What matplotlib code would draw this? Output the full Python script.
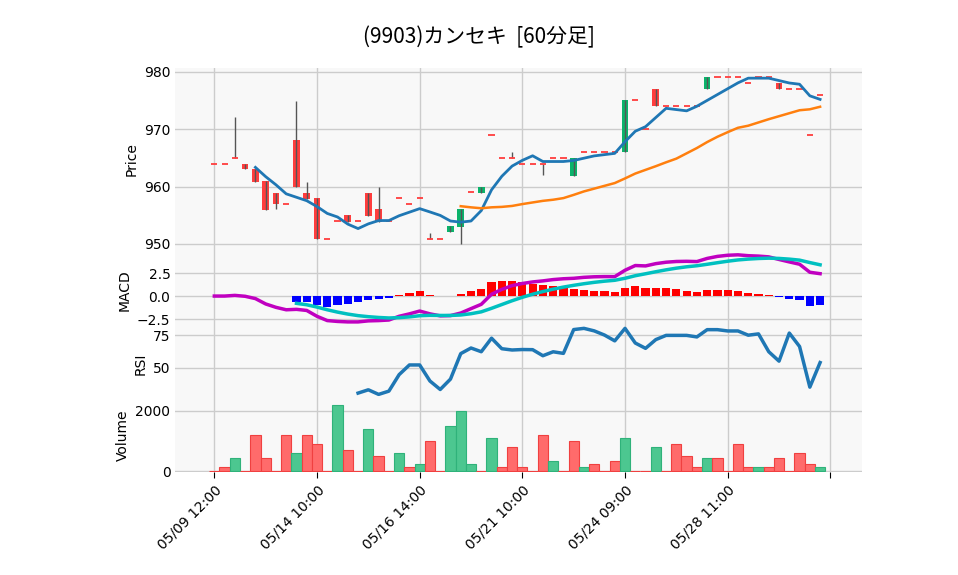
import numpy as np, pandas as pd
import matplotlib
matplotlib.use("Agg")
import matplotlib.pyplot as plt

opens  = [964,964,964.9,964,963,960.9,958.9,957,968.1,958.9,958,950.9,953.9,955,953.9,958.9,956,953.9,958,957,958,950.9,950.9,952,952.9,959,958.9,969,964.9,964.9,
          964,964,964,964.9,964.9,961.9,966,966,966,966,966,975.1,970,977,974,974,974,974,977,979.1,979.1,979.1,978.1,979.1,979.1,978.1,977,977,969,976]
closes = [964,964,964.9,963,960.8,955.9,956.9,957,960,957.8,950.8,950.9,953.9,953.8,953.9,954.9,953.8,953.9,958,957,958,950.9,950.9,953.1,956,959,960,969,964.9,964.9,
          964,964,964,964.9,964.9,964.9,966,966,966,966,975.1,975.1,970,974,974,974,974,974,979.1,979.1,979.1,979.1,978.1,979.1,979.1,977,977,977,969,976]
highs = list(np.maximum(opens, closes))
lows = list(np.minimum(opens, closes))
for i, h in {2: 972.1, 8: 975, 9: 960.8, 16: 960, 21: 951.9, 29: 966}.items(): highs[i] = h
for i, l in {6: 956, 24: 949.9, 32: 962}.items(): lows[i] = l
volumes = [0,120,420,0,1210,420,0,1210,615,1210,910,0,2200,715,0,1400,515,0,615,120,220,1010,0,1500,2000,220,0,1110,120,815,
           120,0,1210,320,0,1010,120,220,0,320,1110,0,0,815,0,910,515,120,420,420,0,910,120,120,120,420,0,615,220,120]
vol_up = [0,0,1,0,0,0,0,0,1,0,0,0,1,0,0,1,0,0,1,0,1,0,0,1,1,1,0,1,0,0,
          0,0,0,1,0,0,1,0,0,0,1,0,0,1,0,0,0,0,1,0,0,0,0,1,0,0,0,0,0,1]
tick_labels = ["05/09 12:00","05/14 10:00","05/16 14:00","05/21 10:00","05/24 09:00","05/28 11:00",""]

c = pd.Series(closes, dtype=float)
n = len(c); x = np.arange(n)
ma5 = c.rolling(5).mean(); ma25 = c.rolling(25).mean()
macd = c.ewm(span=12, adjust=False).mean() - c.ewm(span=26, adjust=False).mean()
sig = macd.ewm(span=9, adjust=False).mean()
hist = macd - sig
sig[:8] = np.nan; hist[:8] = np.nan
d = c.diff(); g = d.clip(lower=0).rolling(14).mean(); l = (-d.clip(upper=0)).rolling(14).mean()
rsi = 100 - 100/(1+g/l)

UP, DN = "#0bb36b", "#ff3d3d"
fig = plt.figure(figsize=(9.58, 5.75), dpi=100)
L, W = 0.183, 0.717
axp = fig.add_axes([L, 0.565, W, 0.317])
axm = fig.add_axes([L, 0.426, W, 0.139], sharex=axp)
axr = fig.add_axes([L, 0.308, W, 0.118], sharex=axp)
axv = fig.add_axes([L, 0.179, W, 0.129], sharex=axp)
for a in (axp, axm, axr, axv):
    a.set_facecolor("#f8f8f8")
    a.grid(True, color="#cccccc", lw=1)
    a.set_axisbelow(True)
    for s in a.spines.values(): s.set_visible(False)
    a.tick_params(length=0, labelsize=10)

for i in x:
    col = UP if closes[i] > opens[i] else DN
    axp.vlines(i, lows[i], highs[i], color="#555555", lw=1)
    h = abs(closes[i]-opens[i])
    if h < 0.05:
        axp.hlines(closes[i], i-0.3, i+0.3, color=DN, lw=1.3)
    else:
        axp.bar(i, h, bottom=min(opens[i], closes[i]), width=0.65, color=col)
axp.plot(x, ma5, color="#1f77b4", lw=2)
axp.plot(x, ma25, color="#ff7f0e", lw=1.8)
axp.set_ylim(948.9, 980.7); axp.set_yticks([950, 960, 970, 980])
axp.set_ylabel("Price")

axm.bar(x, hist, width=0.8, color=["#ff0000" if v > 0 else "#0000ff" for v in hist.fillna(0)])
axm.plot(x, macd, color="#c000c0", lw=2.5)
axm.plot(x, sig, color="#00c0c0", lw=2.5)
axm.set_ylim(-3.7, 5.0); axm.set_yticks([-2.5, 0, 2.5]); axm.set_yticklabels(["\u22122.5", "0.0", "2.5"])
axm.set_ylabel("MACD")

axr.plot(x, rsi, color="#1f77b4", lw=2.5, clip_on=False)
axr.set_ylim(27.3, 78.8); axr.set_yticks([50, 75]); axr.set_ylabel("RSI")

axv.bar(x, volumes, width=1.0, color=["#4cc790" if u else "#ff6b6b" for u in vol_up],
        edgecolor=["#2fb27a" if u else "#f04040" for u in vol_up], lw=0.8)
axv.set_ylim(-33, 2433); axv.set_yticks([0, 2000]); axv.set_ylabel("Volume")

axv.set_xlim(-3.8, 63.1)
axv.set_xticks(np.arange(0, 61, 10))
axv.set_xticklabels(tick_labels, rotation=45, ha="right", rotation_mode="anchor")
axv.tick_params(axis="x", length=4)
for a in (axp, axm, axr): plt.setp(a.get_xticklabels(), visible=False)
fig.suptitle("(9903)カンセキ  [60分足]", fontfamily="Noto Sans CJK JP", fontsize=15, y=0.955)
fig.savefig("out.png", dpi=100)
